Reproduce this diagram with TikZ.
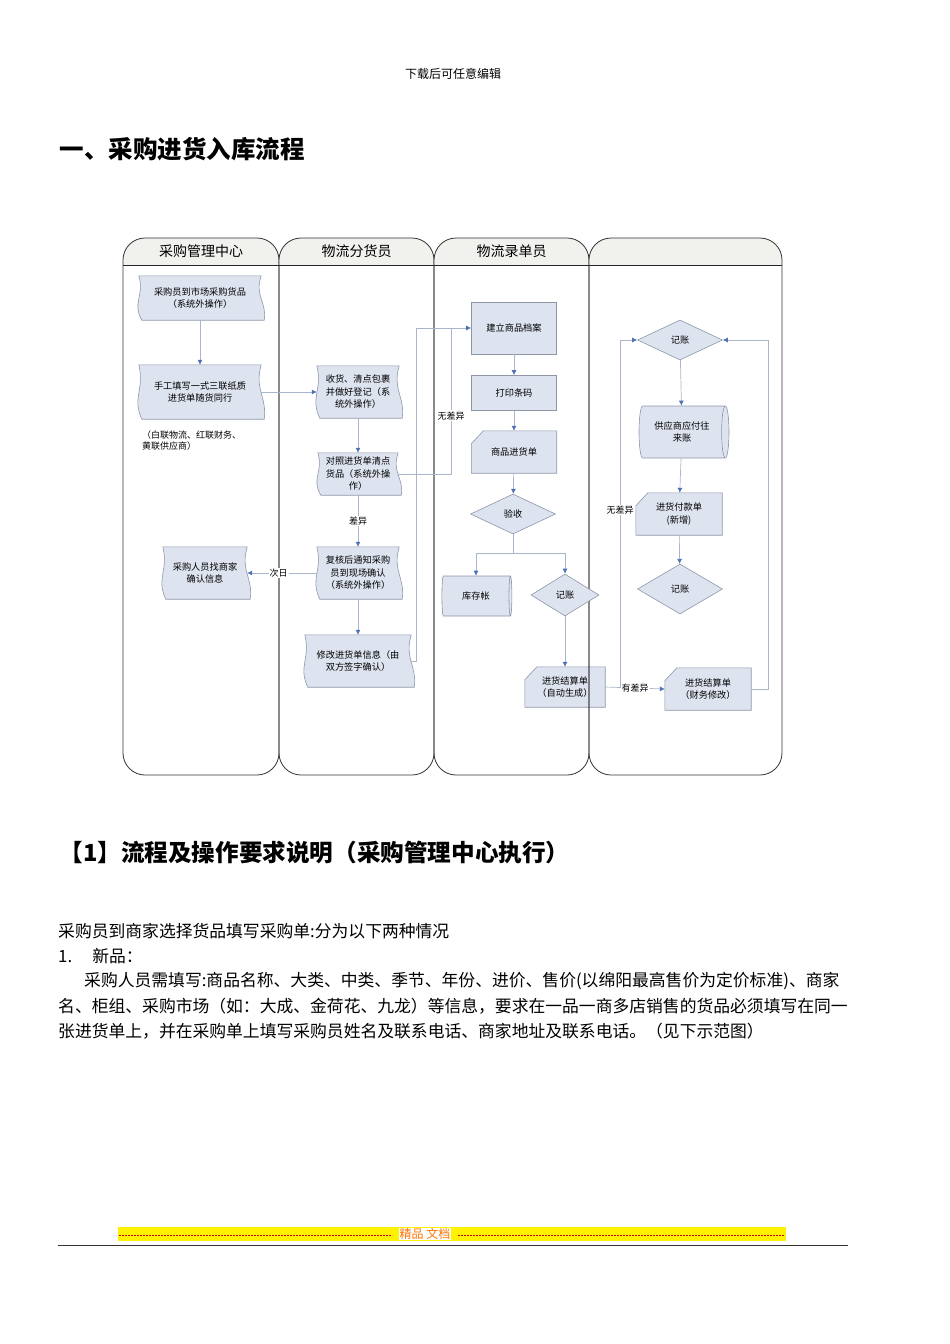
\documentclass[tikz,border=0pt]{standalone}
\usepackage{fontspec}
\setmainfont{Noto Sans CJK SC}
\usetikzlibrary{shapes.geometric,arrows.meta,calc,backgrounds}
\definecolor{boxfill}{HTML}{DDE3EF}
\definecolor{boxdraw}{HTML}{8E96A8}
\definecolor{lnc}{HTML}{A9B5C9}
\definecolor{arr}{HTML}{4D72B8}
\definecolor{hdr}{HTML}{F1F1EE}
\tikzset{
  lbl/.style={font=\fontsize{9}{11}\selectfont, align=center, inner sep=1pt},
  boxt/.style={font=\fontsize{9.2}{12.5}\selectfont, align=center, inner sep=0pt},
  shp/.style={fill=boxfill, draw=boxdraw, line width=0.6pt},
  conn/.style={draw=lnc, line width=0.7pt},
  arw/.style={conn, -{Latex[length=5pt,width=5pt,color=arr]}},
  lane/.style={draw=black!80, line width=0.8pt, rounded corners=22pt},
}
\newcommand\docn[6]{%
  \node[boxt, minimum width=#4pt, minimum height=#5pt] (#1) at (#2,#3) {#6};
  \begin{pgfonlayer}{background}
  \path[shp] (#1.north west) -- (#1.north east)
    .. controls ($(#1.north east)!0.45!(#1.south east)+(-7,0)$) and ($(#1.north east)!0.6!(#1.south east)+(6,0)$) .. ($(#1.south east)+(3,0)$)
    -- ($(#1.south west)+(3,0)$)
    .. controls ($(#1.south west)!0.4!(#1.north west)+(-7,0)$) and ($(#1.south west)!0.55!(#1.north west)+(6,0)$) .. (#1.north west) -- cycle;
  \end{pgfonlayer}}
\newcommand\cardn[6]{%
  \node[boxt, minimum width=#4pt, minimum height=#5pt] (#1) at (#2,#3) {#6};
  \begin{pgfonlayer}{background}
  \path[shp] ($(#1.north west)+(0,13)$) -- ($(#1.north west)+(12,0)$) -- (#1.north east) -- (#1.south east) -- (#1.south west) -- cycle;
  \end{pgfonlayer}}
\begin{document}
\begin{tikzpicture}[x=1pt,y=-1pt]
\useasboundingbox (0,0) rectangle (950,1344);
% header texts
\node[font=\fontsize{12}{14}\selectfont] at (453,74) {下载后可任意编辑};
\node[anchor=west, font=\bfseries\fontsize{24.5}{28}\selectfont] at (56,149) {一、采购进货入库流程};
% lanes
\foreach \xa/\xb/\t in {123/279/采购管理中心, 279/434/物流分货员, 434/589/物流录单员, 589/782/{}} {
  \fill[hdr] (\xa,265) [rounded corners=22pt]-- (\xa,238) -- (\xb,238) [sharp corners]-- (\xb,265) -- cycle;
  \draw[lane] (\xa,238) rectangle (\xb,775);
  \draw[black!85, line width=0.8pt] (\xa,265) -- (\xb,265);
  \node[font=\fontsize{14}{16}\selectfont] at ({(\xa+\xb)/2},251) {\t};
}
% lane 1
\docn{a1}{200}{298}{122}{44}{采购员到市场采购货品\\（系统外操作）}
\docn{a2}{200}{392}{122}{54}{手工填写一式三联纸质\\进货单随货同行}
\node[anchor=north west, lbl, align=left] (note) at (141,430) {（白联物流、红联财务、\\黄联供应商）};
\docn{a3}{205}{573}{84}{52}{采购人员找商家\\确认信息}
% lane 2
\docn{b1}{358}{392}{82}{52}{收货、清点包裹\\并做好登记（系\\统外操作）}
\docn{b2}{358}{474}{80}{42}{对照进货单清点\\货品（系统外操\\作）}
\docn{b3}{358}{573}{82}{52}{复核后通知采购\\员到现场确认\\（系统外操作）}
\docn{b4}{358}{661}{106}{52}{修改进货单信息（由\\双方签字确认）}
% lane 3
\node[shp, boxt, minimum width=85pt, minimum height=52pt] (c1) at (514,328) {建立商品档案};
\node[shp, boxt, minimum width=85pt, minimum height=35pt] (c2) at (514,393) {打印条码};
\cardn{c3}{514}{452}{85}{42}{商品进货单}
\node[shp, boxt, diamond, minimum width=85pt, minimum height=40pt] (c4) at (513,514) {验收};
\node[shp, boxt, cylinder, aspect=0.35, minimum width=40pt, minimum height=70pt] (c5) at (476,596) {库存帐};
\node[shp, boxt, diamond, minimum width=68pt, minimum height=42pt] (c6) at (565,595) {记账};
\cardn{c7}{565}{687}{80}{40}{进货结算单\\（自动生成）}
% lane 4
\node[shp, boxt, diamond, minimum width=85pt, minimum height=40pt] (d1) at (680,340) {记账};
\node[shp, boxt, cylinder, aspect=0.35, minimum width=52pt, minimum height=90pt] (d2) at (682,432) {供应商应付往\\来账};
\cardn{d3}{679}{514}{86}{42}{进货付款单\\(新增)}
\node[shp, boxt, diamond, minimum width=85pt, minimum height=50pt] (d4) at (680,589) {记账};
\cardn{d5}{708}{689}{86}{42}{进货结算单\\（财务修改）}
% connectors
\draw[arw] (a1) -- (a2);
\draw[arw] (a2) -- (b1);
\draw[arw] (b1) -- (b2);
\draw[arw] (b2) -- node[lbl, fill=white] {差异} (b3);
\draw[arw] (b3) -- node[lbl, fill=white, pos=0.55] {次日} (a3);
\draw[arw] (b3) -- (b4);
\coordinate (j1) at (451,328);
\draw[arw] (b2.east) -- (451,474) -- node[lbl, fill=white, pos=0.4] {无差异} (j1) -- (c1.west);
\draw[conn] (b4.east) -- (416,661) -- (416,328) -- (j1);
\draw[arw] (c1) -- (c2);
\draw[arw] (c2) -- (c3);
\draw[arw] (c3) -- (c4);
\draw[arw] (c4.south) -- (513,553) -| (c5.north);
\draw[arw] (513,553) -| (c6.north);
\draw[arw] (c6) -- (c7);
\draw[arw] (c7.east) -- node[lbl, fill=white, pos=0.5] {有差异} (d5.west);
\draw[arw] (620,687) -- node[lbl, fill=white, pos=0.51] {无差异} (620,340) -- (d1.west);
\draw[arw] (d5.east) -- (768,689) -- (768,340) -- (d1.east);
\draw[arw] (d1) -- (d2);
\draw[arw] (d2) -- (d3);
\draw[arw] (d3) -- (d4);
% lower text
\node[anchor=west, font=\bfseries\fontsize{23.6}{26}\selectfont] at (56,853) {【1】流程及操作要求说明（采购管理中心执行）};
\begin{scope}[every node/.style={anchor=west, font=\fontsize{16.8}{19}\selectfont, inner sep=0pt}]
\node at (58,931) {采购员到商家选择货品填写采购单:分为以下两种情况};
\node at (58,956) {1.\hspace{1.2em}新品：};
\node at (84,981) {采购人员需填写:商品名称、大类、中类、季节、年份、进价、售价(以绵阳最高售价为定价标准)、商家};
\node at (58,1006) {名、柜组、采购市场（如：大成、金荷花、九龙）等信息，要求在一品一商多店销售的货品必须填写在同一};
\node at (58,1031) {张进货单上，并在采购单上填写采购员姓名及联系电话、商家地址及联系电话。（见下示范图）};
\end{scope}
% footer
\fill[yellow] (118,1227) rectangle (786,1241);
\draw[red!80!black, dashed, dash pattern=on 2pt off 1pt] (119,1235) -- (392,1235);
\draw[red!80!black, dashed, dash pattern=on 2pt off 1pt] (458,1235) -- (785,1235);
\node[fill=white, inner sep=0.5pt, text=orange!90!red, font=\fontsize{12}{14}\selectfont] (ft) at (425,1234) {精品\ 文档};
\draw[black!80, line width=1pt] (58,1245) -- (848,1245);
\end{tikzpicture}
\end{document}
